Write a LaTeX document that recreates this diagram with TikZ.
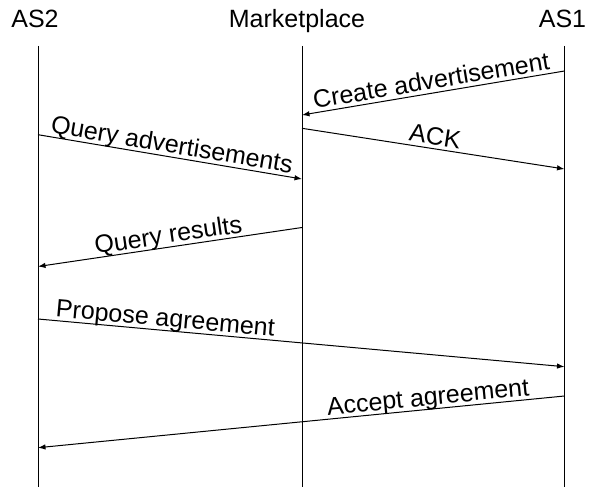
\documentclass[tikz,border=0pt]{standalone}
\usepackage{fontspec}
\setmainfont{Liberation Sans}
\usetikzlibrary{arrows.meta}
\begin{document}
\begin{tikzpicture}[x=1pt,y=-1pt,
  header/.style={anchor=base, inner sep=0pt, font=\fontsize{25}{30}\selectfont},
  lifeline/.style={line width=1pt},
  msg/.style={line width=1pt, -{Latex[length=7.5pt,width=5.5pt]}},
  msglabel/.style={sloped, above, inner xsep=0pt, inner ysep=3.5pt, text depth=0pt, font=\fontsize{25}{30}\selectfont}]
\useasboundingbox (0,0) rectangle (598,487);
% headers
\node[header] (as2h) at (35,27.3) {AS2};
\node[header] (mkth) at (297,27.3) {Marketplace};
\node[header] (as1h) at (562.5,27.3) {AS1};
% lifelines
\coordinate (as2top) at (38,46);
\coordinate (as2bot) at (38,487);
\coordinate (mkttop) at (302,46);
\coordinate (mktbot) at (302,487);
\coordinate (as1top) at (564.5,46);
\coordinate (as1bot) at (564.5,487);
\draw[lifeline] (as2top) -- (as2bot);
\draw[lifeline] (mkttop) -- (mktbot);
\draw[lifeline] (as1top) -- (as1bot);
% message end points
\coordinate (c1s) at (564.5,71);
\coordinate (c1e) at (302,115);
\coordinate (c2s) at (302,128.3);
\coordinate (c2e) at (564.5,169);
\coordinate (c3s) at (38,134.7);
\coordinate (c3e) at (302,179);
\coordinate (c4s) at (302,227.5);
\coordinate (c4e) at (38,266.5);
\coordinate (c5s) at (38,319);
\coordinate (c5e) at (564.5,366.7);
\coordinate (c6s) at (564.5,396);
\coordinate (c6e) at (38,447.7);
% messages
\draw[msg] (c1s) -- node[msglabel, midway] {Create advertisement} (c1e);
\draw[msg] (c2s) -- node[msglabel, midway] {ACK} (c2e);
\draw[msg] (c3s) -- node[msglabel, midway] {Query advertisements} (c3e);
\draw[msg] (c4s) -- node[msglabel, midway] {Query results} (c4e);
\draw[msg] (c5s) -- node[msglabel, pos=0.24] {Propose agreement} (c5e);
\draw[msg] (c6s) -- node[msglabel, pos=0.257] {Accept agreement} (c6e);
\end{tikzpicture}
\end{document}
